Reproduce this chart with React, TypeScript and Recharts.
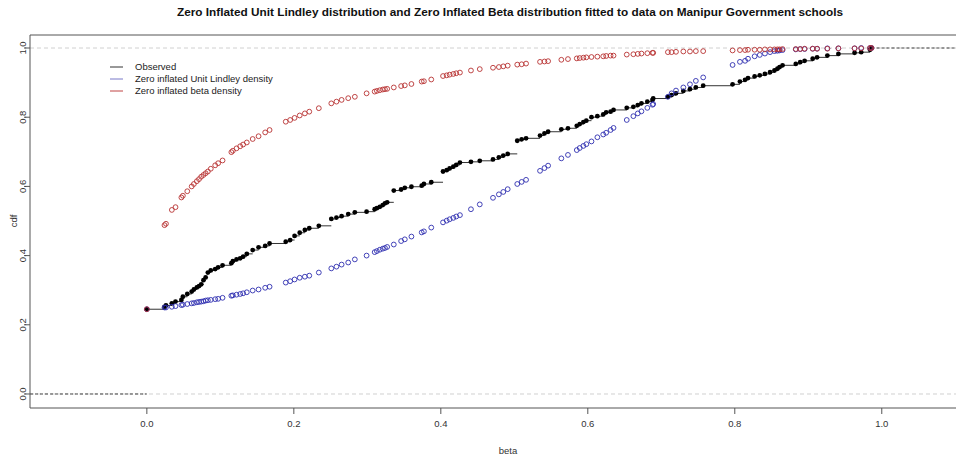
import React from 'react'
import { ScatterChart, Scatter, XAxis, YAxis, ReferenceLine } from 'recharts'

// observed values of beta (sorted) and the three cdfs read at each of them
const betaValues = [
  0, 0.024, 0.026, 0.034, 0.039, 0.047, 0.049, 0.055, 0.061, 0.064,
  0.068, 0.071, 0.074, 0.077, 0.08, 0.083, 0.087, 0.093, 0.097, 0.103,
  0.115, 0.117, 0.122, 0.127, 0.131, 0.136, 0.144, 0.152, 0.161, 0.167,
  0.189, 0.195, 0.201, 0.208, 0.215, 0.221, 0.234, 0.251, 0.258, 0.265,
  0.274, 0.283, 0.299, 0.31, 0.313, 0.317, 0.321, 0.324, 0.327, 0.336,
  0.346, 0.351, 0.36, 0.374, 0.377, 0.387, 0.403, 0.408, 0.412, 0.417,
  0.421, 0.426, 0.441, 0.453, 0.471, 0.479, 0.485, 0.491, 0.504, 0.51,
  0.516, 0.535, 0.541, 0.546, 0.564, 0.573, 0.585, 0.589, 0.594, 0.598,
  0.605, 0.613, 0.621, 0.625, 0.631, 0.635, 0.653, 0.662, 0.668, 0.673,
  0.681, 0.688, 0.689, 0.709, 0.714, 0.72, 0.73, 0.739, 0.747, 0.757,
  0.797, 0.807, 0.814, 0.818, 0.827, 0.834, 0.841, 0.848, 0.854, 0.858,
  0.861, 0.865, 0.883, 0.889, 0.895, 0.906, 0.912, 0.926, 0.941, 0.963,
  0.972, 0.984, 0.986,
]

const observedCdf = [
  0.245, 0.252, 0.256, 0.262, 0.267, 0.272, 0.281, 0.289, 0.296, 0.302,
  0.308, 0.312, 0.317, 0.329, 0.337, 0.351, 0.357, 0.361, 0.366, 0.372,
  0.378, 0.384, 0.389, 0.392, 0.397, 0.405, 0.416, 0.424, 0.428, 0.435,
  0.44, 0.445, 0.457, 0.466, 0.474, 0.479, 0.486, 0.506, 0.51, 0.514,
  0.52, 0.525, 0.527, 0.534, 0.537, 0.541, 0.546, 0.551, 0.554, 0.588,
  0.591, 0.596, 0.599, 0.602, 0.607, 0.612, 0.643, 0.647, 0.652, 0.657,
  0.662, 0.669, 0.671, 0.674, 0.678, 0.684, 0.689, 0.694, 0.732, 0.736,
  0.739, 0.747, 0.753, 0.758, 0.765, 0.768, 0.775, 0.78, 0.786, 0.79,
  0.8, 0.803, 0.808, 0.814, 0.816, 0.821, 0.827, 0.83, 0.835, 0.84,
  0.845, 0.85, 0.854, 0.859, 0.864, 0.869, 0.876, 0.881, 0.886, 0.891,
  0.895, 0.903, 0.908, 0.913, 0.918, 0.921, 0.925, 0.93, 0.935, 0.94,
  0.945, 0.95, 0.954, 0.959, 0.963, 0.969, 0.973, 0.978, 0.983, 0.986,
  0.988, 0.995, 1.0,
]

const ziulCdf = [
  0.245, 0.25, 0.25, 0.252, 0.254, 0.257, 0.258, 0.26, 0.262, 0.263,
  0.265, 0.266, 0.267, 0.268, 0.27, 0.271, 0.272, 0.274, 0.275, 0.278,
  0.284, 0.285, 0.287, 0.289, 0.291, 0.294, 0.299, 0.302, 0.307, 0.31,
  0.322, 0.326, 0.331, 0.336, 0.339, 0.342, 0.351, 0.363, 0.368, 0.374,
  0.38, 0.389, 0.4, 0.41, 0.413, 0.417, 0.42, 0.422, 0.425, 0.432,
  0.442, 0.447, 0.455, 0.467, 0.47, 0.481, 0.496, 0.501, 0.505, 0.509,
  0.513, 0.517, 0.534, 0.548, 0.567, 0.577, 0.584, 0.592, 0.607, 0.613,
  0.619, 0.645, 0.653, 0.66, 0.681, 0.691, 0.705, 0.711, 0.717, 0.722,
  0.73, 0.742, 0.75, 0.755, 0.763, 0.769, 0.792, 0.803, 0.811, 0.817,
  0.827, 0.836, 0.838, 0.859, 0.869, 0.877, 0.886, 0.895, 0.905, 0.915,
  0.951, 0.96, 0.963, 0.969, 0.976, 0.98, 0.984, 0.988, 0.991, 0.992,
  0.993, 0.994, 0.996, 0.997, 0.997, 0.998, 0.998, 0.999, 0.999, 0.999,
  1.0, 1.0, 1.0,
]

const zibCdf = [
  0.245, 0.488, 0.492, 0.532, 0.54, 0.568, 0.573, 0.586, 0.6, 0.607,
  0.615, 0.621, 0.628, 0.633, 0.638, 0.643, 0.651, 0.661, 0.667, 0.675,
  0.699, 0.703, 0.71, 0.716, 0.721, 0.727, 0.737, 0.745, 0.756, 0.763,
  0.787, 0.792, 0.798, 0.805, 0.811, 0.816, 0.826, 0.84, 0.845, 0.85,
  0.855, 0.859, 0.869, 0.874, 0.876, 0.878, 0.88, 0.881, 0.882, 0.886,
  0.89, 0.892, 0.896, 0.903, 0.904, 0.909, 0.919, 0.921, 0.923, 0.925,
  0.927, 0.929, 0.935, 0.939, 0.943, 0.945, 0.947, 0.949, 0.952, 0.953,
  0.955, 0.96, 0.961, 0.962, 0.966, 0.968, 0.97, 0.971, 0.972, 0.973,
  0.974, 0.975, 0.976, 0.977, 0.978, 0.978, 0.981, 0.982, 0.983, 0.984,
  0.985, 0.986, 0.986, 0.988, 0.988, 0.989, 0.99, 0.99, 0.991, 0.991,
  0.993, 0.994, 0.994, 0.995, 0.995, 0.995, 0.996, 0.996, 0.996, 0.996,
  0.996, 0.997, 0.997, 0.997, 0.998, 0.998, 0.998, 0.998, 0.999, 0.999,
  0.999, 1.0, 1.0,
]

const xTicks = [0, 0.2, 0.4, 0.6, 0.8, 1.0]
const yTicks = [0, 0.2, 0.4, 0.6, 0.8, 1.0]

const X_MIN = -0.159
const X_MAX = 1.101
const Y_MIN = -0.0405
const Y_MAX = 1.0376

const observed = betaValues.map((x, i) => ({ x, y: observedCdf[i] }))
const ziul = betaValues.map((x, i) => ({ x, y: ziulCdf[i] }))
const zib = betaValues.map((x, i) => ({ x, y: zibCdf[i] }))

const FONT = '"Liberation Sans", Arial, sans-serif'
const AXIS = '#555'
const BLUE = '#2f2fb0'
const RED = '#b83232'

const dot = (fill: string) => (p: any) => <circle cx={p.cx} cy={p.cy} r={2.4} fill={fill} />
const ring = (stroke: string) => (p: any) => (
  <circle cx={p.cx} cy={p.cy} r={2.4} fill="none" stroke={stroke} strokeWidth={0.9} />
)

const YTick = ({ x, y, payload }: any) => (
  <g transform={`translate(${x + 2},${y})`}>
    <text transform="rotate(-90)" textAnchor="middle" dy="0.35em" fontSize={9.5} fill="#333" fontFamily={FONT}>
      {payload.value.toFixed(1)}
    </text>
  </g>
)

export default function App() {
  const legend = [
    { label: 'Observed', color: '#333' },
    { label: 'Zero inflated Unit Lindley density', color: '#7878c8' },
    { label: 'Zero inflated beta density', color: '#c04545' },
  ]
  return (
    <div style={{ position: 'absolute', left: 0, top: 0, width: 956, height: 460, background: '#fff' }}>
      <ScatterChart width={956} height={460} margin={{ top: 35, right: 0, bottom: 0, left: 0 }}>
        <XAxis
          type="number"
          dataKey="x"
          domain={[X_MIN, X_MAX]}
          allowDataOverflow
          ticks={xTicks}
          tickFormatter={(v: number) => v.toFixed(1)}
          height={52}
          tickSize={6}
          tickMargin={6}
          stroke={AXIS}
          tick={{ fontSize: 9.5, fill: '#333', fontFamily: FONT }}
        />
        <YAxis
          type="number"
          dataKey="y"
          domain={[Y_MIN, Y_MAX]}
          allowDataOverflow
          ticks={yTicks}
          width={30}
          tickSize={6}
          tickMargin={3}
          stroke={AXIS}
          tick={<YTick />}
        />
        <ReferenceLine y={Y_MAX} stroke={AXIS} />
        <ReferenceLine y={0} stroke="#c4c4c4" strokeWidth={0.8} strokeDasharray="4 3" />
        <ReferenceLine y={1} stroke="#c4c4c4" strokeWidth={0.8} strokeDasharray="4 3" />
        <ReferenceLine
          segment={[{ x: X_MIN, y: 0 }, { x: betaValues[0], y: 0 }]}
          stroke="#444"
          strokeDasharray="3 2"
        />
        <ReferenceLine
          segment={[{ x: betaValues[betaValues.length - 1], y: 1 }, { x: X_MAX, y: 1 }]}
          stroke="#444"
          strokeDasharray="3 2"
        />
        {observed.slice(0, -1).map((p, i) => (
          <ReferenceLine
            key={i}
            segment={[{ x: p.x, y: p.y }, { x: observed[i + 1].x, y: p.y }]}
            stroke="#333"
            strokeWidth={1}
          />
        ))}
        <Scatter data={observed} shape={dot('#000')} isAnimationActive={false} />
        <Scatter data={ziul} shape={ring(BLUE)} isAnimationActive={false} />
        <Scatter data={zib} shape={ring(RED)} isAnimationActive={false} />
      </ScatterChart>
      <svg width={956} height={460} style={{ position: 'absolute', left: 0, top: 0, pointerEvents: 'none' }}>
        <text x={510} y={16} textAnchor="middle" fontSize={11} fontWeight="bold" fill="#111" fontFamily={FONT}
          textLength={666} lengthAdjust="spacingAndGlyphs">
          Zero Inflated Unit Lindley distribution and Zero Inflated Beta distribution fitted to data on Manipur Government schools
        </text>
        <text x={508} y={454} textAnchor="middle" fontSize={9.5} fill="#333" fontFamily={FONT}>beta</text>
        <text transform="translate(17,221) rotate(-90)" textAnchor="middle" fontSize={9.5} fill="#333" fontFamily={FONT}>cdf</text>
        {legend.map((l, i) => (
          <g key={l.label}>
            <line x1={110} x2={123} y1={67 + i * 12} y2={67 + i * 12} stroke={l.color} strokeWidth={1} />
            <text x={135} y={67 + i * 12} dy="0.35em" fontSize={9.5} fill="#222" fontFamily={FONT}>{l.label}</text>
          </g>
        ))}
      </svg>
    </div>
  )
}
